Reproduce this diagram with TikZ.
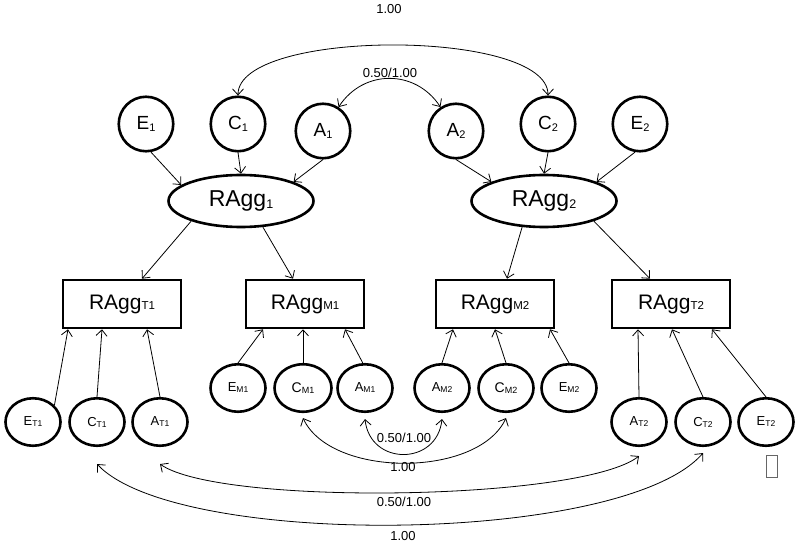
\documentclass[tikz,border=0pt]{standalone}
\usepackage{fontspec}
\setmainfont{Liberation Sans}
\usetikzlibrary{shapes.geometric,arrows.meta,calc}
\newcommand\lb[5]{\fontsize{#1}{#1}\selectfont #4\raisebox{-#3pt}{\fontsize{#2}{#2}\selectfont #5}}
\begin{document}
\begin{tikzpicture}[x=1pt,y=-1pt,
 >={Straight Barb[length=6pt,width=11pt]},
 bw/.style={draw,line width=2.6pt,inner sep=0pt},
 topc/.style={bw,circle,minimum size=54.5pt},
 lat/.style={bw,ellipse,minimum width=145pt,minimum height=52pt},
 obs/.style={bw,rectangle,minimum width=118pt,minimum height=48pt},
 sml/.style={bw,ellipse,minimum width=55pt,minimum height=47.5pt},
 arr/.style={->,line width=0.8pt},
 arr2/.style={<->,line width=0.8pt},
 num/.style={font=\fontsize{13}{13}\selectfont,inner sep=1pt}]
\path[use as bounding box] (0,0) rectangle (800,545);
% top latent circles
\node[topc] (E1) at (146,124) {\lb{19}{11}{2}{E}{1}};
\node[topc] (C1) at (238,124) {\lb{19}{11}{2}{C}{1}};
\node[topc] (A1) at (323,131) {\lb{19}{11}{2}{A}{1}};
\node[topc] (A2) at (456,131) {\lb{19}{11}{2}{A}{2}};
\node[topc] (C2) at (548,124) {\lb{19}{11}{2}{C}{2}};
\node[topc] (E2) at (640,124) {\lb{19}{11}{2}{E}{2}};
% RAgg ellipses
\node[lat] (R1) at (241,201) {\lb{23}{12.5}{2.3}{RAgg}{1}};
\node[lat] (R2) at (544,201) {\lb{23}{12.5}{2.3}{RAgg}{2}};
% boxes
\node[obs] (T1) at (122,304) {\lb{21}{11.5}{0}{RAgg}{T1}};
\node[obs] (M1) at (305,304) {\lb{21}{11.5}{0}{RAgg}{M1}};
\node[obs] (M2) at (495,304) {\lb{21}{11.5}{0}{RAgg}{M2}};
\node[obs] (T2) at (671,304) {\lb{21}{11.5}{0}{RAgg}{T2}};
% small ellipses
\node[sml] (ET1) at (33,422) {\lb{13}{8.5}{1}{E}{T1}};
\node[sml] (CT1) at (97,422) {\lb{13}{8.5}{1}{C}{T1}};
\node[sml] (AT1) at (160,422) {\lb{13}{8.5}{1}{A}{T1}};
\node[sml] (EM1) at (238,388) {\lb{13}{8.5}{1}{E}{M1}};
\node[sml,minimum width=57pt] (CM1) at (303,388) {\lb{14}{9}{1.3}{C}{M1}};
\node[sml] (AM1) at (365,388) {\lb{13}{8.5}{1}{A}{M1}};
\node[sml] (AM2) at (442,388) {\lb{13}{8.5}{1}{A}{M2}};
\node[sml] (CM2) at (506,388) {\lb{14}{9}{1.3}{C}{M2}};
\node[sml] (EM2) at (569,388) {\lb{13}{8.5}{1}{E}{M2}};
\node[sml] (AT2) at (639,422) {\lb{13}{8.5}{1}{A}{T2}};
\node[sml] (CT2) at (703,422) {\lb{13}{8.5}{1}{C}{T2}};
\node[sml] (ET2) at (766,422) {\lb{13}{8.5}{1}{E}{T2}};
% empty glyph box
\node[draw=black!60,line width=0.7pt,minimum width=11pt,minimum height=22pt,inner sep=0pt] (bx) at (772,466) {};
% paths to RAgg latent
\draw[arr] (E1.-80) -- (R1.165);
\draw[arr] (C1.south) -- (R1.north);
\draw[arr] (A1.south) -- (R1.20);
\draw[arr] (A2.south) -- (R2.160);
\draw[arr] (C2.south) -- (R2.north);
\draw[arr] (E2.-100) -- (R2.20);
% RAgg to boxes
\draw[arr] (R1.-158) -- ([xshift=20pt]T1.north);
\draw[arr] (R1.-50) -- ([xshift=-12pt]M1.north);
\draw[arr] (R2.-130) -- ([xshift=12pt]M2.north);
\draw[arr] (R2.-22) -- ([xshift=-21pt]T2.north);
% small ellipses to boxes
\draw[arr] (ET1.38) -- ([xshift=-54pt]T1.south);
\draw[arr] (CT1.north) -- ([xshift=-20pt]T1.south);
\draw[arr] (AT1.north) -- ([xshift=25pt]T1.south);
\draw[arr] (EM1.north) -- ([xshift=-42pt]M1.south);
\draw[arr] (CM1.north) -- ([xshift=-2pt]M1.south);
\draw[arr] (AM1.95) -- ([xshift=40pt]M1.south);
\draw[arr] (AM2.north) -- ([xshift=-42pt]M2.south);
\draw[arr] (CM2.north) -- (M2.south);
\draw[arr] (EM2.north) -- ([xshift=55pt]M2.south);
\draw[arr] (AT2.north) -- ([xshift=-33pt]T2.south);
\draw[arr] (CT2.north) -- ([xshift=1pt]T2.south);
\draw[arr] (ET2.north) -- ([xshift=41pt]T2.south);
% covariances top
\draw[arr2] (C1.north) .. controls +(0,-67) and +(0,-67) .. (C2.north);
\draw[arr2] (A1.57) .. controls +(25,-38) and +(-25,-38) .. (A2.123);
% covariances bottom
\draw[arr2] ([yshift=-6pt]AM1.south) .. controls +(5,47) and +(-5,47) .. ([yshift=-6pt]AM2.south);
\draw[arr2] ([yshift=-5pt]CM1.south) .. controls +(28,60) and +(-28,60) .. ([yshift=-5pt]CM2.south);
\draw[arr2] ([yshift=-17pt]AT1.south) .. controls +(60,42) and +(-58,45) .. ([yshift=-9pt]AT2.south);
\draw[arr2] ([yshift=-17pt]CT1.south) .. controls +(80,85) and +(-80,92) .. ([yshift=-6pt]CT2.south);
% labels
\node[num] (l1) at (389,9) {1.00};
\node[num] (l2) at (390,73) {0.50/1.00};
\node[num] (l3) at (404,438) {0.50/1.00};
\node[num] (l4) at (403,467) {1.00};
\node[num] (l5) at (404,502) {0.50/1.00};
\node[num] (l6) at (403,536) {1.00};
\end{tikzpicture}
\end{document}
